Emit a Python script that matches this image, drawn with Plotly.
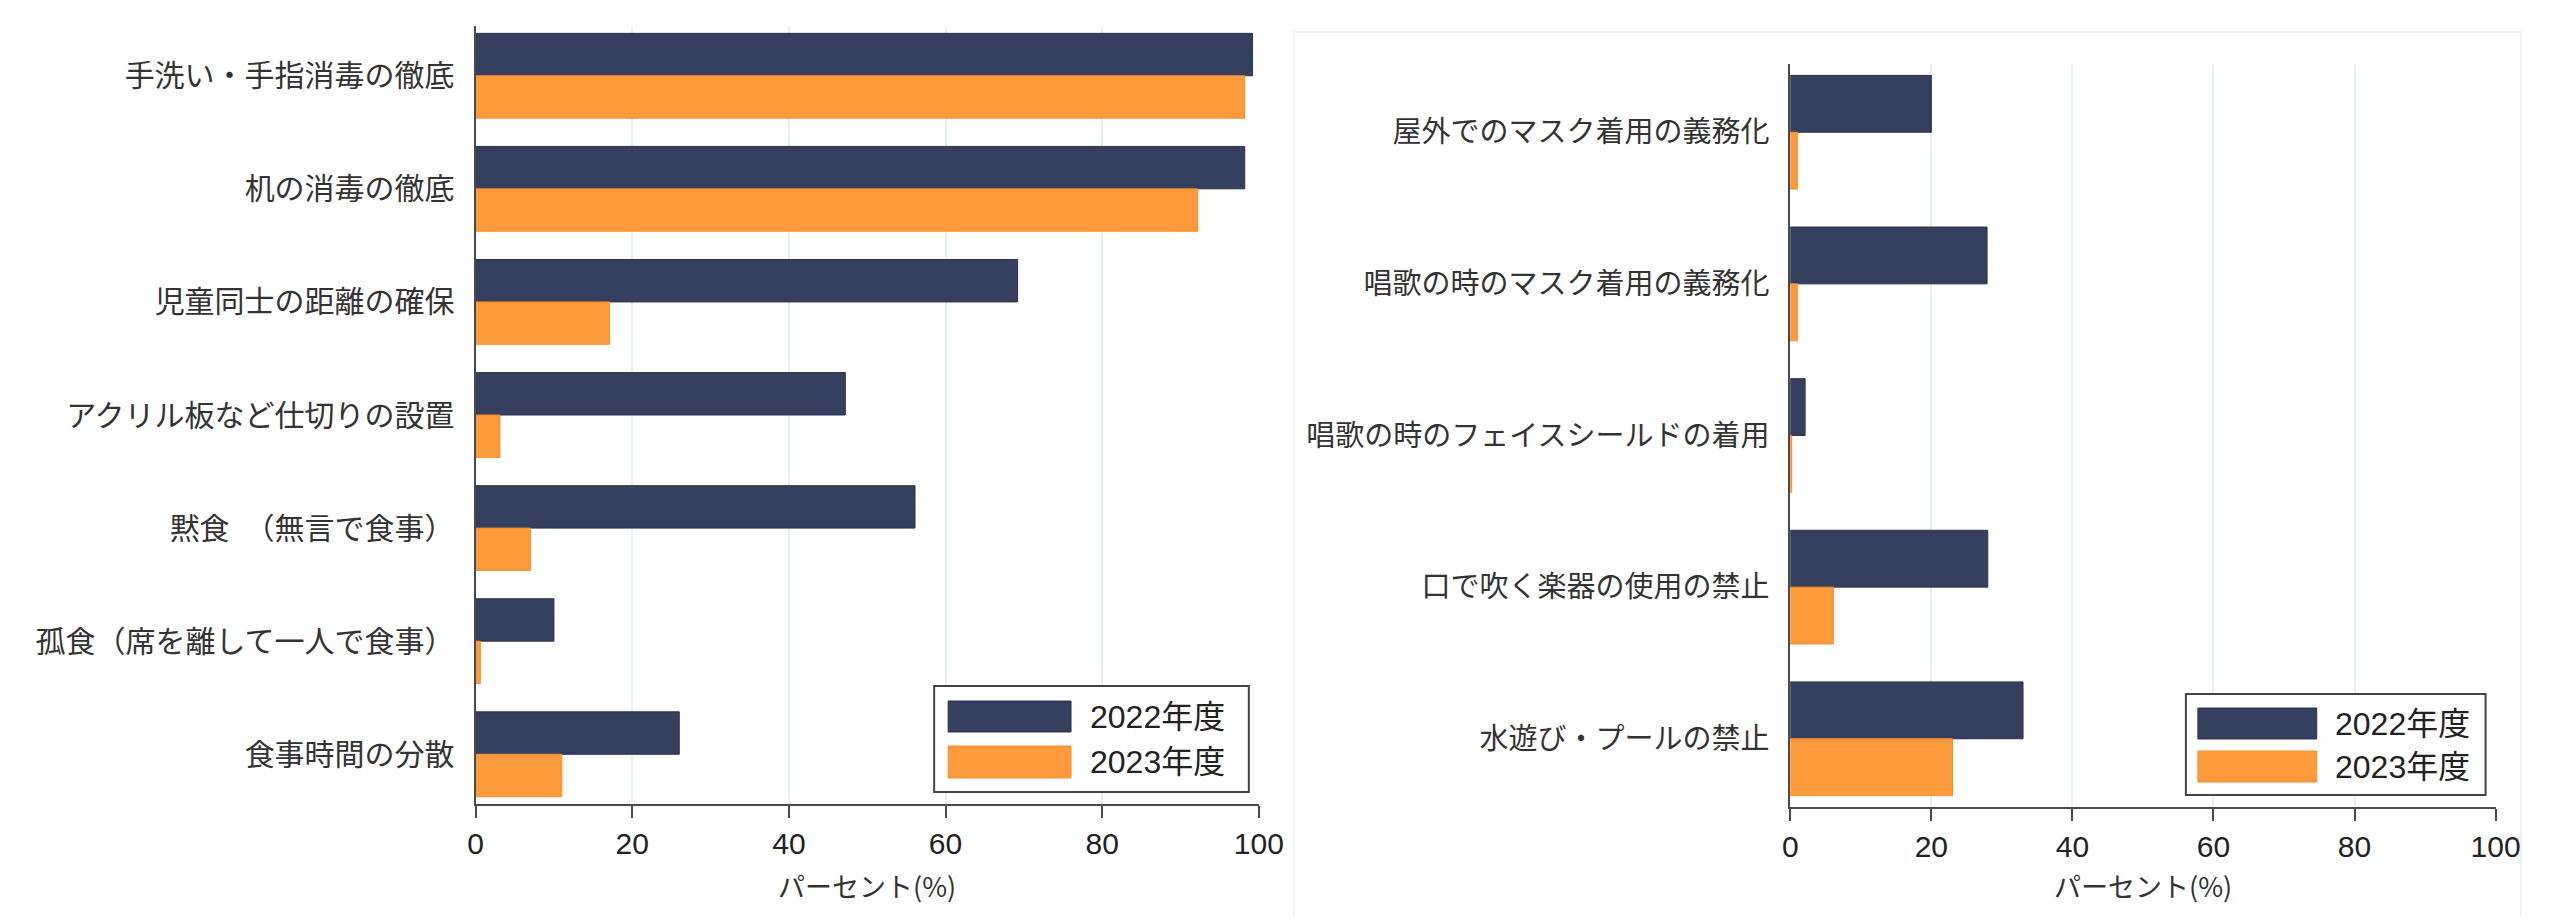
import plotly.graph_objects as go

# page is 2554x924; the HTML body has an 8px margin, so the figure is sized to fit inside it
PAGE_W, PAGE_H = 2554, 924
OFF = 8
W, H = PAGE_W - 2 * OFF, PAGE_H - 2 * OFF
# empirical horizontal correction of the rendered page
HX_A, HX_S = 6.0, 0.988

# ---- data ----
left_categories = ["手洗い・手指消毒の徹底", "机の消毒の徹底", "児童同士の距離の確保",
                   "アクリル板など仕切りの設置", "黙食\u3000（無言で食事）",
                   "孤食（席を離して一人で食事）", "食事時間の分散"]
left_2022 = [99.2, 98.2, 69.2, 47.2, 56.1, 10.0, 26.0]
left_2023 = [98.2, 92.2, 17.1, 3.1, 7.0, 0.6, 11.0]

right_categories = ["屋外でのマスク着用の義務化", "唱歌の時のマスク着用の義務化",
                    "唱歌の時のフェイスシールドの着用", "口で吹く楽器の使用の禁止",
                    "水遊び・プールの禁止"]
right_2022 = [20.0, 27.9, 2.1, 28.0, 33.0]
right_2023 = [1.0, 1.0, 0.2, 6.1, 23.0]

series_names = ["2022年度", "2023年度"]
x_ticks = [0, 20, 40, 60, 80, 100]
x_title = "パーセント(%)"

# ---- style ----
NAVY = "#353F5E"
ORANGE = "#FD9B3C"
NAVY_LINE = "#2B3450"
ORANGE_LINE = "#F78E2A"
CJK = "Noto Sans CJK JP"
NUM = "Liberation Sans, Noto Sans CJK JP"
TXT = "#333333"
AXC = "#4a4a4a"
GRID = "#E6EFF3"


def px(x):
    page = (x - HX_A) / HX_S
    return min(max((page - OFF) / W, 0), 1)


def py(y):
    return 1 - (y - OFF) / H


fig = go.Figure()

for xa, ya, cats, v22, v23 in [("x", "y", left_categories, left_2022, left_2023),
                               ("x2", "y2", right_categories, right_2022, right_2023)]:
    fig.add_trace(go.Bar(y=cats, x=v22, orientation="h", name=series_names[0],
                         marker=dict(color=NAVY, line=dict(color=NAVY_LINE, width=1)),
                         xaxis=xa, yaxis=ya, showlegend=False))
    fig.add_trace(go.Bar(y=cats, x=v23, orientation="h", name=series_names[1],
                         marker=dict(color=ORANGE, line=dict(color=ORANGE_LINE, width=1)),
                         xaxis=xa, yaxis=ya, showlegend=False))

xcommon = dict(range=[0, 100], tickvals=x_ticks, ticks="outside", ticklen=12, tickwidth=2,
               tickcolor=AXC, showline=True, linecolor=AXC, linewidth=2,
               showgrid=True, gridcolor=GRID, gridwidth=2, zeroline=False,
               tickfont=dict(family=NUM, size=30, color="#222222"), fixedrange=True)
ycommon = dict(showline=True, linecolor=AXC, linewidth=2, ticks="", showgrid=False,
               ticklabelstandoff=13, type="category", fixedrange=True)

# left panel: x 474..1258, y 26..804
# right panel: x 1790..2496, y 64..807
fig.update_layout(
    width=W, height=H,
    margin=dict(l=0, r=0, t=0, b=0),
    paper_bgcolor="white", plot_bgcolor="white",
    barmode="group", bargap=0.25, bargroupgap=0,
    xaxis=dict(domain=[px(474), px(1258)], anchor="y", **xcommon),
    yaxis=dict(domain=[py(804), py(26)], anchor="x", range=[6.44, -0.44],
               categoryarray=left_categories,
               tickfont=dict(family=CJK, size=30, color=TXT), **ycommon),
    xaxis2=dict(domain=[px(1790), px(2496)], anchor="y2", **xcommon),
    yaxis2=dict(domain=[py(807), py(64)], anchor="x2", range=[4.45, -0.45],
                categoryarray=right_categories,
                tickfont=dict(family=CJK, size=29, color=TXT), **ycommon),
    showlegend=False,
)

shapes = []
annotations = []

# right panel faint frame
shapes.append(dict(type="rect", xref="paper", yref="paper",
                   x0=px(1293), x1=px(2527), y0=py(940), y1=py(32),
                   line=dict(color="#EEF2F4", width=2), fillcolor="rgba(0,0,0,0)",
                   layer="below"))

# custom legends (wide swatches)
legends = [
    dict(box=(933, 686, 1248, 792), sw=(947, 1070), rows=[(701, 732), (746, 778)], tx=1087),
    dict(box=(2186, 694, 2486, 795), sw=(2198, 2317), rows=[(708, 739), (751, 782)], tx=2333),
]
for lg in legends:
    x0, y0, x1, y1 = lg["box"]
    shapes.append(dict(type="rect", xref="paper", yref="paper",
                       x0=px(x0), x1=px(x1), y0=py(y1), y1=py(y0),
                       line=dict(color="#444444", width=2), fillcolor="white"))
    for (ry0, ry1), col, lc, name in zip(lg["rows"], [NAVY, ORANGE], [NAVY_LINE, ORANGE_LINE],
                                          series_names):
        shapes.append(dict(type="rect", xref="paper", yref="paper",
                           x0=px(lg["sw"][0]), x1=px(lg["sw"][1]), y0=py(ry1), y1=py(ry0),
                           line=dict(color=lc, width=1), fillcolor=col))
        annotations.append(dict(xref="paper", yref="paper", x=px(lg["tx"]),
                                y=py((ry0 + ry1) / 2), xanchor="left", yanchor="middle",
                                text=name, showarrow=False,
                                font=dict(family=NUM, size=32, color="#222222")))

# axis titles
for cx in [(474 + 1258) / 2, (1790 + 2496) / 2]:
    annotations.append(dict(xref="paper", yref="paper", x=px(cx), y=py(885),
                            xanchor="center", yanchor="middle", text=x_title,
                            showarrow=False, font=dict(family=CJK, size=27, color=TXT)))

fig.update_layout(shapes=shapes, annotations=annotations)

fig.write_html("out.html")
